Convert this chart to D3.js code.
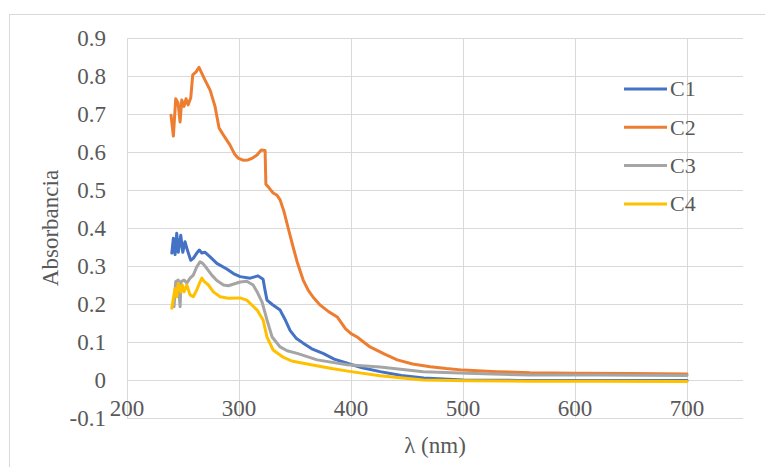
<!DOCTYPE html>
<html>
<head>
<meta charset="utf-8">
<script src="https://cdn.jsdelivr.net/npm/d3@7"></script>
<style>
  html, body { margin: 0; padding: 0; background: #fff; }
  svg { display: block; }
  text { font-family: "Liberation Serif", "Times New Roman", serif; fill: #595959; }
</style>
</head>
<body>
<svg id="chart" width="765" height="467"></svg>
<script>
// Absorption spectra of four samples: [wavelength nm, absorbance]
const seriesNames = ["C1", "C2", "C3", "C4"];
const seriesColors = ["#4472C4", "#ED7D31", "#A5A5A5", "#FFC000"];

const c1 = [
  [240, 0.334], [241.4, 0.373], [242.9, 0.330], [244.4, 0.386], [245.8, 0.336],
  [248, 0.381], [249.8, 0.336], [251.8, 0.364], [253.9, 0.342], [256.9, 0.315],
  [259.2, 0.320], [262.3, 0.334], [264.6, 0.342], [266.8, 0.334], [269.7, 0.336],
  [274.2, 0.324], [280.2, 0.307], [289.1, 0.292], [295, 0.280], [301, 0.272],
  [310, 0.268], [317, 0.274], [321.5, 0.265], [323, 0.240], [325, 0.210],
  [330, 0.198], [336.7, 0.184], [341, 0.160], [345.7, 0.130], [351, 0.110],
  [357.3, 0.097], [365, 0.082], [375, 0.070], [385, 0.055], [396.6, 0.044],
  [410, 0.032], [426, 0.022], [445, 0.012], [465, 0.005], [500, 0.000],
  [550, -0.001], [600, -0.001], [650, -0.001], [700, -0.001]
];

const c2 = [
  [239.3, 0.697], [241.4, 0.642], [243.5, 0.740], [245.6, 0.729], [247.4, 0.679],
  [248.9, 0.737], [250.9, 0.720], [252.7, 0.740], [254.5, 0.724], [256.9, 0.742],
  [258.7, 0.803], [261.7, 0.811], [264.3, 0.823], [266.8, 0.807], [269.7, 0.789],
  [274.2, 0.763], [278.6, 0.720], [282.2, 0.663], [286, 0.645], [292, 0.618],
  [296, 0.595], [299.2, 0.584], [304, 0.578], [308.1, 0.579], [312, 0.584],
  [316.1, 0.592], [319.7, 0.605], [323.3, 0.604], [324, 0.515], [327, 0.505],
  [330.5, 0.492], [334, 0.486], [336.7, 0.474], [340, 0.445], [343.9, 0.400],
  [348.3, 0.350], [352, 0.310], [357.3, 0.263], [362, 0.235], [367, 0.215],
  [372.5, 0.197], [380, 0.180], [387.7, 0.166], [395, 0.135], [400, 0.122],
  [405.5, 0.113], [417, 0.087], [430, 0.068], [441.3, 0.053], [455, 0.042],
  [470.8, 0.035], [485, 0.030], [500.3, 0.026], [530, 0.022], [560, 0.019],
  [600, 0.018], [650, 0.017], [700, 0.016]
];

const c3 = [
  [242, 0.193], [243.5, 0.259], [245.8, 0.263], [247.4, 0.193], [248.3, 0.259],
  [250.9, 0.263], [253.4, 0.255], [256.3, 0.268], [259.2, 0.276], [262.3, 0.298],
  [265.2, 0.311], [267.6, 0.307], [271.2, 0.294], [275.7, 0.276], [280.2, 0.262],
  [286.1, 0.250], [290.5, 0.248], [301, 0.258], [307, 0.260], [312.6, 0.250],
  [316.5, 0.230], [320.6, 0.205], [325, 0.158], [329.6, 0.113], [336.7, 0.087],
  [343, 0.077], [351.9, 0.070], [369.8, 0.053], [396.6, 0.040], [426, 0.034],
  [464.5, 0.022], [503.8, 0.018], [560, 0.013], [620, 0.013], [700, 0.012]
];

const c4 = [
  [240, 0.189], [241.4, 0.215], [242.9, 0.241], [244.4, 0.219], [245.8, 0.254],
  [248, 0.232], [249.4, 0.250], [250.9, 0.232], [253.4, 0.250], [256.3, 0.224],
  [259.2, 0.219], [262.3, 0.237], [264.6, 0.254], [266.8, 0.268], [269.1, 0.259],
  [272.7, 0.250], [277.1, 0.232], [283.1, 0.219], [290.5, 0.215], [301, 0.216],
  [307, 0.210], [316.2, 0.184], [321.5, 0.158], [325, 0.113], [330.5, 0.079],
  [339.4, 0.060], [347, 0.050], [357.3, 0.044], [381.4, 0.031], [400, 0.022],
  [426, 0.011], [464.5, 0.000], [503.8, -0.002], [560, -0.003], [620, -0.003],
  [700, -0.004]
];

const seriesData = [c1, c2, c3, c4];

const xTicks = [200, 300, 400, 500, 600, 700];
const yTicks = [-0.1, 0, 0.1, 0.2, 0.3, 0.4, 0.5, 0.6, 0.7, 0.8, 0.9];
const yTickLabels = ["-0.1", "0", "0.1", "0.2", "0.3", "0.4", "0.5", "0.6", "0.7", "0.8", "0.9"];
const xTitle = "λ (nm)";
const yTitle = "Absorbancia";

const svg = d3.select("#chart");
const plot = { left: 127, right: 743, top: 38, bottom: 418 };

const x = d3.scaleLinear().domain([200, 750]).range([plot.left, plot.right]);
const y = d3.scaleLinear().domain([-0.1, 0.9]).range([plot.bottom, plot.top]);

// chart area frame
svg.append("rect")
  .attr("x", 9.5).attr("y", 14.5)
  .attr("width", 800).attr("height", 500)
  .attr("fill", "none").attr("stroke", "#d9d9d9").attr("stroke-width", 1);

// gridlines
svg.append("g").selectAll("line").data(yTicks).join("line")
  .attr("x1", plot.left).attr("x2", plot.right)
  .attr("y1", d => Math.round(y(d)) + 0.5).attr("y2", d => Math.round(y(d)) + 0.5)
  .attr("stroke", "#d9d9d9").attr("stroke-width", 1);

svg.append("g").selectAll("line").data(xTicks).join("line")
  .attr("x1", d => Math.round(x(d)) + 0.5).attr("x2", d => Math.round(x(d)) + 0.5)
  .attr("y1", plot.top).attr("y2", plot.bottom)
  .attr("stroke", "#d9d9d9").attr("stroke-width", 1);

// y tick labels
svg.append("g").selectAll("text").data(yTicks).join("text")
  .attr("x", 106).attr("y", d => y(d))
  .attr("dy", "0.34em")
  .attr("text-anchor", "end")
  .attr("font-size", 23)
  .text((d, i) => yTickLabels[i]);

// x tick labels, placed just under the zero line
svg.append("g").selectAll("text").data(xTicks).join("text")
  .attr("x", d => x(d)).attr("y", y(0) + 36)
  .attr("text-anchor", "middle")
  .attr("font-size", 23)
  .text(d => d);

// axis titles
svg.append("text")
  .attr("x", (plot.left + plot.right) / 2).attr("y", 453)
  .attr("text-anchor", "middle").attr("font-size", 23)
  .text(xTitle);

svg.append("text")
  .attr("transform", `translate(58, ${(plot.top + plot.bottom) / 2}) rotate(-90)`)
  .attr("text-anchor", "middle").attr("font-size", 23)
  .text(yTitle);

// spectra
const line = d3.line().x(d => x(d[0])).y(d => y(d[1])).curve(d3.curveLinear);
svg.append("g").selectAll("path").data(seriesData).join("path")
  .attr("d", line)
  .attr("fill", "none")
  .attr("stroke", (d, i) => seriesColors[i])
  .attr("stroke-width", 3)
  .attr("stroke-linejoin", "round")
  .attr("stroke-linecap", "round");

// legend
const legend = svg.append("g").selectAll("g").data(seriesNames).join("g")
  .attr("transform", (d, i) => `translate(624, ${89 + i * 38.3})`);
legend.append("line")
  .attr("x1", 0).attr("x2", 43).attr("y1", 0).attr("y2", 0)
  .attr("stroke", (d, i) => seriesColors[i]).attr("stroke-width", 3);
legend.append("text")
  .attr("x", 46).attr("y", 0).attr("dy", "0.34em")
  .attr("font-size", 22)
  .text(d => d);
</script>
</body>
</html>
